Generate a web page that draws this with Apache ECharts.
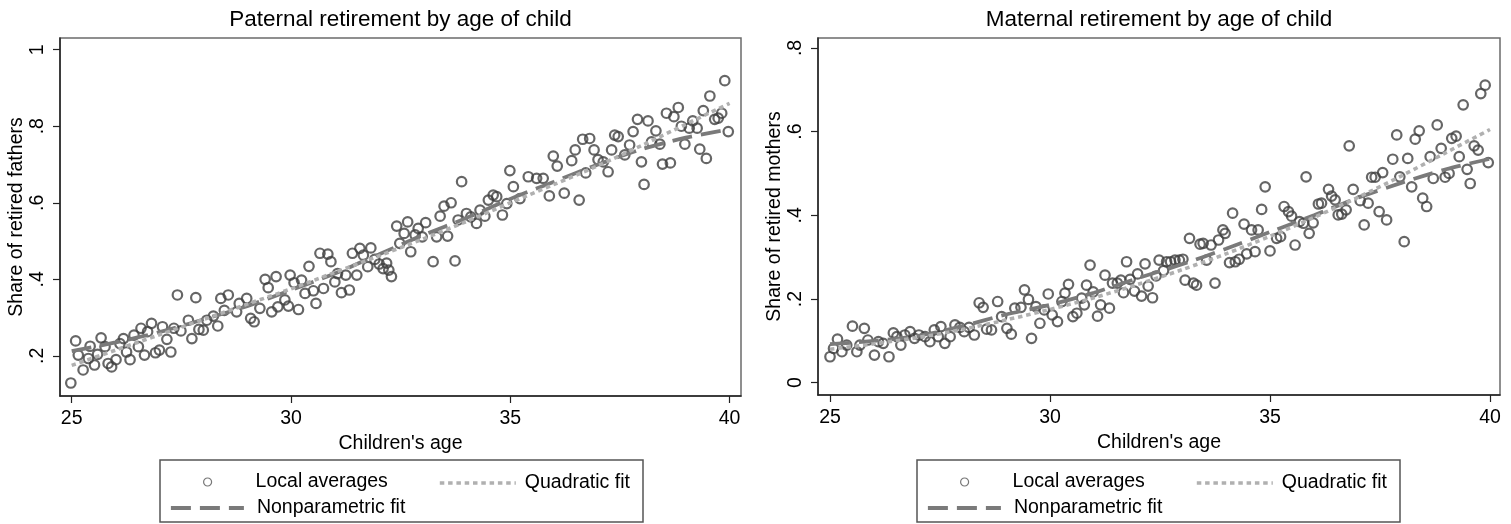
<!DOCTYPE html>
<html>
<head>
<meta charset="utf-8">
<script src="https://cdn.jsdelivr.net/npm/echarts@6/dist/echarts.min.js"></script>
<style>
html,body{margin:0;padding:0;background:#fff;}
#c{width:1511px;height:524px;}
</style>
</head>
<body>
<div id="c"></div>
<script>
// ---- Data ----
var fatherAge = [24.98,25.09,25.15,25.26,25.38,25.42,25.52,25.59,25.67,25.76,25.83,25.91,26.01,26.10,26.18,26.25,26.33,26.42,26.52,26.58,26.66,26.73,26.82,26.91,27.00,27.07,27.17,27.26,27.33,27.41,27.49,27.66,27.74,27.83,27.90,28.00,28.08,28.23,28.33,28.40,28.48,28.57,28.76,28.82,28.99,29.08,29.16,29.29,29.41,29.48,29.56,29.66,29.70,29.86,29.94,29.98,30.07,30.17,30.24,30.32,30.41,30.51,30.57,30.66,30.74,30.84,30.91,31.00,31.06,31.15,31.25,31.33,31.40,31.50,31.57,31.65,31.75,31.82,31.91,32.01,32.10,32.18,32.23,32.29,32.41,32.48,32.58,32.66,32.73,32.83,32.90,32.99,33.07,33.24,33.32,33.40,33.49,33.57,33.65,33.74,33.81,33.89,34.00,34.10,34.23,34.31,34.42,34.50,34.61,34.69,34.82,34.92,34.99,35.07,35.22,35.41,35.60,35.75,35.89,35.98,36.07,36.23,36.40,36.48,36.57,36.65,36.72,36.81,36.91,37.00,37.12,37.23,37.31,37.38,37.46,37.61,37.72,37.80,37.90,37.99,38.05,38.14,38.22,38.32,38.41,38.47,38.56,38.65,38.73,38.83,38.90,38.98,39.08,39.16,39.26,39.32,39.40,39.47,39.55,39.66,39.74,39.82,39.89,39.97];
var fatherShare = [0.129,0.239,0.202,0.163,0.193,0.225,0.176,0.204,0.247,0.224,0.180,0.171,0.190,0.232,0.245,0.210,0.190,0.254,0.224,0.272,0.202,0.263,0.285,0.208,0.215,0.276,0.243,0.210,0.272,0.359,0.265,0.293,0.245,0.352,0.269,0.267,0.293,0.304,0.278,0.350,0.319,0.359,0.315,0.337,0.350,0.298,0.289,0.324,0.400,0.378,0.315,0.407,0.328,0.346,0.330,0.411,0.391,0.321,0.398,0.363,0.434,0.370,0.337,0.468,0.376,0.466,0.446,0.393,0.415,0.365,0.411,0.372,0.468,0.411,0.481,0.463,0.433,0.482,0.452,0.440,0.428,0.442,0.424,0.407,0.539,0.494,0.520,0.550,0.472,0.516,0.533,0.511,0.548,0.446,0.511,0.565,0.591,0.513,0.600,0.448,0.555,0.655,0.572,0.563,0.546,0.581,0.565,0.607,0.620,0.616,0.568,0.598,0.684,0.642,0.611,0.668,0.664,0.664,0.618,0.722,0.696,0.625,0.710,0.738,0.607,0.766,0.678,0.768,0.738,0.713,0.707,0.681,0.738,0.777,0.773,0.725,0.751,0.786,0.818,0.707,0.648,0.814,0.759,0.788,0.753,0.701,0.834,0.704,0.825,0.849,0.800,0.753,0.795,0.814,0.795,0.740,0.841,0.716,0.879,0.818,0.821,0.834,0.919,0.786];

var motherAge = [25.00,25.08,25.17,25.27,25.38,25.51,25.61,25.68,25.78,25.86,26.01,26.10,26.21,26.34,26.44,26.52,26.61,26.70,26.82,26.92,27.02,27.16,27.27,27.37,27.46,27.52,27.61,27.73,27.84,27.95,28.05,28.16,28.28,28.39,28.48,28.56,28.67,28.81,28.90,29.02,29.12,29.20,29.34,29.42,29.51,29.58,29.68,29.77,29.87,29.96,30.05,30.17,30.27,30.34,30.42,30.52,30.61,30.72,30.78,30.83,30.91,30.98,31.08,31.15,31.25,31.35,31.42,31.53,31.61,31.67,31.74,31.82,31.92,31.99,32.08,32.16,32.23,32.33,32.41,32.48,32.58,32.65,32.74,32.84,32.94,33.02,33.07,33.17,33.26,33.33,33.41,33.48,33.56,33.66,33.75,33.83,33.93,33.98,34.08,34.15,34.21,34.30,34.41,34.47,34.58,34.66,34.73,34.81,34.89,35.00,35.15,35.24,35.32,35.42,35.49,35.57,35.67,35.76,35.82,35.89,35.98,36.10,36.17,36.33,36.40,36.48,36.55,36.63,36.73,36.80,36.89,37.05,37.14,37.23,37.31,37.39,37.48,37.56,37.65,37.79,37.88,37.95,38.05,38.13,38.22,38.30,38.39,38.47,38.56,38.64,38.71,38.80,38.89,38.98,39.07,39.13,39.23,39.30,39.39,39.48,39.55,39.64,39.73,39.79,39.89,39.96];
var motherShare = [0.062,0.082,0.104,0.074,0.090,0.135,0.074,0.090,0.130,0.102,0.066,0.098,0.094,0.062,0.119,0.110,0.090,0.114,0.122,0.106,0.114,0.110,0.098,0.126,0.110,0.134,0.094,0.110,0.138,0.132,0.122,0.132,0.114,0.191,0.180,0.128,0.126,0.194,0.158,0.130,0.116,0.178,0.180,0.222,0.199,0.106,0.182,0.142,0.174,0.212,0.162,0.146,0.194,0.214,0.235,0.158,0.166,0.202,0.186,0.233,0.281,0.217,0.159,0.186,0.257,0.178,0.238,0.238,0.245,0.215,0.289,0.247,0.219,0.260,0.207,0.284,0.231,0.203,0.255,0.293,0.268,0.289,0.289,0.293,0.293,0.295,0.245,0.345,0.238,0.233,0.331,0.333,0.293,0.329,0.238,0.341,0.365,0.357,0.287,0.405,0.289,0.295,0.379,0.308,0.365,0.313,0.365,0.414,0.468,0.315,0.345,0.349,0.421,0.409,0.398,0.329,0.385,0.381,0.492,0.357,0.382,0.427,0.429,0.462,0.446,0.437,0.401,0.403,0.413,0.566,0.462,0.435,0.377,0.429,0.491,0.491,0.409,0.502,0.389,0.534,0.592,0.492,0.337,0.536,0.468,0.582,0.602,0.441,0.421,0.540,0.488,0.616,0.560,0.491,0.500,0.584,0.589,0.540,0.664,0.510,0.476,0.566,0.556,0.691,0.711,0.526];

var fitAge = [25,26,27,28,29,30,31,32,33,34,35,36,37,38,39,40];
var fatherQuad = [0.175,0.215,0.255,0.295,0.335,0.375,0.418,0.461,0.505,0.551,0.600,0.648,0.697,0.750,0.805,0.860];
var fatherNonpar = [0.212,0.235,0.262,0.295,0.330,0.372,0.415,0.465,0.515,0.560,0.610,0.655,0.700,0.740,0.770,0.792];
var motherQuad = [0.080,0.093,0.108,0.127,0.150,0.175,0.203,0.235,0.270,0.308,0.350,0.395,0.443,0.495,0.550,0.605];
var motherNonpar = [0.092,0.100,0.112,0.135,0.163,0.186,0.215,0.250,0.283,0.320,0.360,0.400,0.442,0.478,0.510,0.535];

var xTicks = [25,30,35,40];
var yTicksFather = [0.2,0.4,0.6,0.8,1];
var yTicksMother = [0,0.2,0.4,0.6,0.8];

var titles = ['Paternal retirement by age of child','Maternal retirement by age of child'];
var yNames = ['Share of retired fathers','Share of retired mothers'];
var xName = "Children's age";

// ---- build ----
function zip(a,b){ return a.map(function(v,i){ return [v,b[i]]; }); }
var FONT = "'Liberation Sans', Arial, sans-serif";
var FS = 19.5;
var QUAD_STYLE = {color:'#b0b0b0', width:3.6, type:[4.5,3.8], cap:'butt'};
var NONPAR_STYLE = {color:'#7a7a7a', width:3.8, type:[20,9], cap:'butt'};
function yFmt(v){ if (v === 0) return '0'; if (v >= 1) return String(v); return String(+v.toFixed(1)).replace(/^0/, ''); }

function xAxis(gi){
  return {
    type:'value', gridIndex:gi, min: gi===0?24.733:24.727, max: gi===0?40.26:40.227,
    name: xName, nameLocation:'middle', nameGap: 29,
    nameTextStyle:{color:'#000', fontSize:FS, fontFamily:FONT},
    axisLine:{show:true, onZero:false, lineStyle:{color:'#222', width:1.5}},
    axisTick:{show:true, inside:false, length:7, customValues:xTicks, lineStyle:{color:'#222', width:1.2}},
    axisLabel:{customValues:xTicks, margin:13, color:'#000', fontSize:FS, fontFamily:FONT},
    splitLine:{show:false}
  };
}
function yAxis(gi){
  var t = gi===0?yTicksFather:yTicksMother;
  return {
    type:'value', gridIndex:gi, min: gi===0?0.095:-0.0294, max: gi===0?1.0306:0.8237,
    name: yNames[gi], nameLocation:'middle', nameGap: 32, nameRotate:90,
    nameTextStyle:{color:'#000', fontSize:FS, fontFamily:FONT},
    axisLine:{show:true, onZero:false, lineStyle:{color:'#222', width:1.5}},
    axisTick:{show:true, inside:false, length:7, customValues:t, lineStyle:{color:'#222', width:1.2}},
    axisLabel:{customValues:t, rotate:90, margin:12, color:'#000', fontSize:FS, fontFamily:FONT, formatter:yFmt},
    splitLine:{show:false}
  };
}
function scatter(gi, ages, vals){
  return {
    name:'Local averages', type:'scatter', xAxisIndex:gi, yAxisIndex:gi,
    data: zip(ages, vals), symbol:'circle', symbolSize:9.5, z:2,
    itemStyle:{color:'rgba(0,0,0,0)', borderColor:'#404040', borderWidth:2.2},
    emphasis:{disabled:true}
  };
}
function quad(gi, vals){
  return {
    name:'Quadratic fit', type:'line', xAxisIndex:gi, yAxisIndex:gi, data: zip(fitAge, vals),
    symbol:'none', smooth:0.3, z:4, color:QUAD_STYLE.color, lineStyle:QUAD_STYLE
  };
}
function nonpar(gi, vals){
  return {
    name:'Nonparametric fit', type:'line', xAxisIndex:gi, yAxisIndex:gi, data: zip(fitAge, vals),
    symbol:'none', smooth:0.3, z:3, color:NONPAR_STYLE.color, lineStyle:NONPAR_STYLE
  };
}
var hiddenSym = {opacity:0, color:'rgba(0,0,0,0)', borderWidth:0};
function legends(dx){
  var base = {orient:'horizontal', padding:0, selectedMode:false,
    textStyle:{color:'#000', fontSize:FS, fontFamily:FONT}};
  return [
    Object.assign({}, base, {data:[{name:'Local averages', itemStyle:{borderWidth:1.2, borderColor:'#555', color:'rgba(0,0,0,0)'}}],
      left:203+dx, top:472, itemWidth:8, itemHeight:8,
      textStyle:{color:'#000', fontSize:FS, fontFamily:FONT, padding:[0,0,0,39]}}),
    Object.assign({}, base, {data:[{name:'Quadratic fit', itemStyle:hiddenSym, lineStyle:QUAD_STYLE}], left:438+dx, top:473, itemWidth:76, itemHeight:7,
      lineStyle:QUAD_STYLE,
      textStyle:{color:'#000', fontSize:FS, fontFamily:FONT, padding:[0,0,0,4]}}),
    Object.assign({}, base, {data:[{name:'Nonparametric fit', itemStyle:hiddenSym, lineStyle:NONPAR_STYLE}], left:169+dx, top:498, itemWidth:73, itemHeight:7,
      lineStyle:NONPAR_STYLE,
      textStyle:{color:'#000', fontSize:FS, fontFamily:FONT, padding:[0,0,0,8]}})
  ];
}

var chart = echarts.init(document.getElementById('c'), null, {renderer:'canvas'});
chart.setOption({
  animation:false,
  backgroundColor:'#fff',
  grid:[
    {left:60, top:38, width:681, height:358, show:true, borderColor:'#6b6b6b', borderWidth:1.5},
    {left:818, top:38, width:682, height:357, show:true, borderColor:'#6b6b6b', borderWidth:1.5}
  ],
  xAxis:[xAxis(0), xAxis(1)],
  yAxis:[yAxis(0), yAxis(1)],
  legend: legends(0).concat(legends(757)),
  graphic:[
    {type:'text', x:400.5, y:20, style:{text:titles[0], fontSize:22.5, fontFamily:FONT, fill:'#000', textAlign:'center', textVerticalAlign:'middle'}},
    {type:'text', x:1159, y:20, style:{text:titles[1], fontSize:22.5, fontFamily:FONT, fill:'#000', textAlign:'center', textVerticalAlign:'middle'}},
    {type:'rect', shape:{x:160, y:460, width:483, height:62}, style:{fill:'none', stroke:'#555', lineWidth:1.5}},
    {type:'rect', shape:{x:917, y:460, width:483, height:62}, style:{fill:'none', stroke:'#555', lineWidth:1.5}}
  ],
  series:[
    scatter(0, fatherAge, fatherShare), quad(0, fatherQuad), nonpar(0, fatherNonpar),
    scatter(1, motherAge, motherShare), quad(1, motherQuad), nonpar(1, motherNonpar)
  ]
});
</script>
</body>
</html>
